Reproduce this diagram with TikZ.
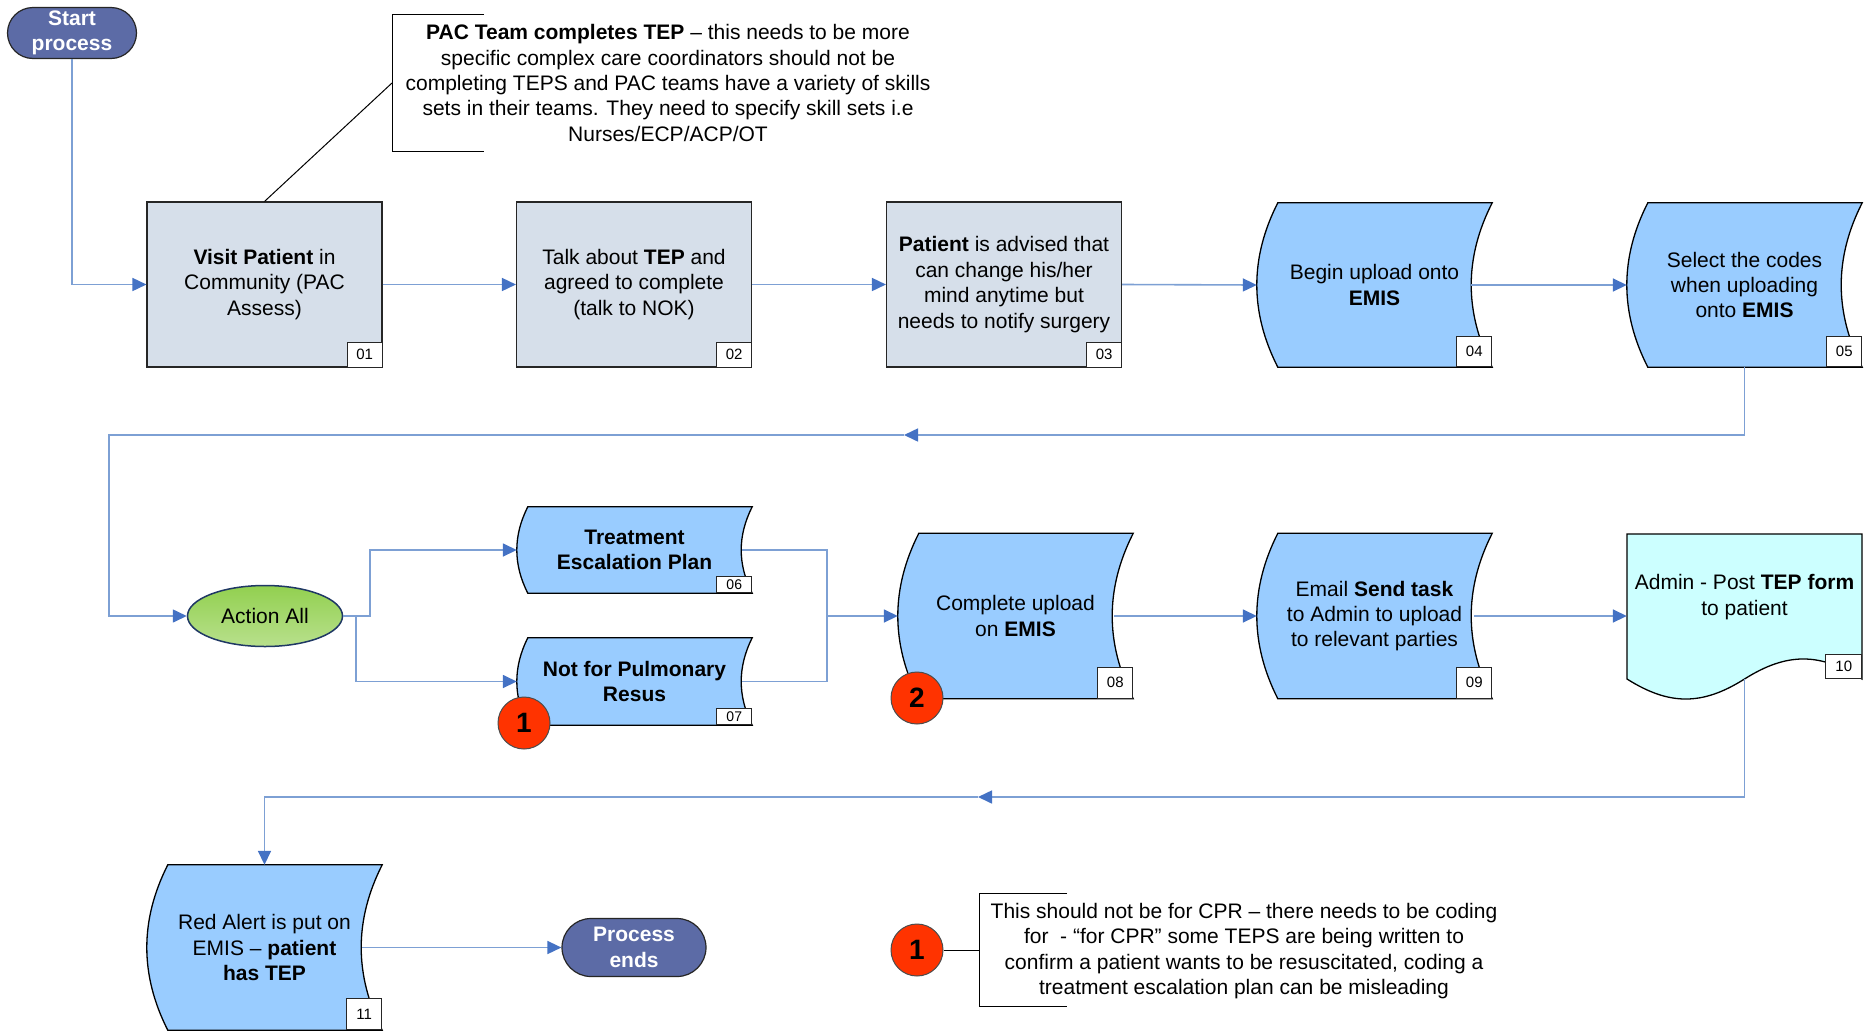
\documentclass[tikz,border=0pt]{standalone}
\usepackage{fontspec}
\setmainfont{Liberation Sans}
\usetikzlibrary{arrows.meta,calc,shapes.geometric,shapes.misc}
\pgfdeclarelayer{bg}
\pgfsetlayers{bg,main}
\definecolor{procfill}{RGB}{214,223,234}
\definecolor{wavefill}{RGB}{153,204,255}
\definecolor{docfill}{RGB}{204,255,255}
\definecolor{termfill}{RGB}{92,107,166}
\definecolor{connline}{RGB}{125,160,212}
\definecolor{connhead}{RGB}{68,114,196}
\definecolor{redmark}{RGB}{255,51,0}
\definecolor{greentop}{RGB}{146,208,80}
\definecolor{greenbot}{RGB}{184,224,140}
\definecolor{navyedge}{RGB}{31,56,100}
\newcommand\mywave[3][wavefill]{%
 \path[draw=black, line width=1.3pt, fill=#1]
  ([xshift=#3]#2.north west) -- (#2.north east)
  .. controls ($(#2.north east)!0.3333!(#2.south east)+(-1.3333*#3,0)$) and ($(#2.north east)!0.6667!(#2.south east)+(-1.3333*#3,0)$) .. (#2.south east)
  -- ([xshift=#3]#2.south west)
  .. controls ($(#2.south west)!0.3333!(#2.north west)+(-0.3333*#3,0)$) and ($(#2.south west)!0.6667!(#2.north west)+(-0.3333*#3,0)$) .. cycle;}
\tikzset{
 txt/.style={font=\fontsize{21}{25.4}\selectfont, align=center},
 proc/.style={txt, draw=black!85, line width=1.1pt, fill=procfill, minimum width=235, minimum height=165, inner sep=0},
 wave/.style={txt, minimum width=235, inner sep=0},
 numbox/.style={draw=black!85, line width=0.9pt, fill=white, font=\fontsize{15}{18}\selectfont, minimum width=35, inner sep=0, anchor=south east},
 term/.style={rounded rectangle, draw=black!85, line width=1.2pt, fill=termfill, text=white, font=\fontsize{21}{25.4}\selectfont\bfseries, align=center, inner sep=0},
 badge/.style={circle, draw=black!70, line width=1pt, fill=redmark, minimum size=52, inner sep=0, font=\fontsize{28}{30}\selectfont\bfseries},
 conn/.style={draw=connline, line width=1.6pt},
 arr/.style={conn, -{Triangle[length=14pt,width=13pt,color=connhead]}},
 callout/.style={draw=black, line width=1pt}
}
\begin{document}
\begin{tikzpicture}[x=1pt,y=-1pt]
\useasboundingbox (0,0) rectangle (1865,1031);

% terminals
\node[term, minimum width=129, minimum height=51] (start) at (72,33) {Start\\process};
\node[term, minimum width=144, minimum height=58] (pend) at (634,947.5) {Process\\ends};

% row 1
\node[proc] (n01) at (264.5,284.5) {\textbf{Visit Patient} in\\Community (PAC\\Assess)};
\node[proc] (n02) at (634,284.5) {Talk about \textbf{TEP} and\\agreed to complete\\(talk to NOK)};
\node[proc] (n03) at (1004,284.5) {\textbf{Patient} is advised that\\can change his/her\\mind anytime but\\needs to notify surgery};
\node[wave, minimum height=164] (n04) at (1374.5,285) {Begin upload onto\\\textbf{EMIS}};
\node[wave, minimum height=164] (n05) at (1744.5,285) {Select the codes\\when uploading\\onto \textbf{EMIS}};

% row 2
\node[ellipse, draw=navyedge, line width=1.5pt, top color=greentop, bottom color=greenbot, minimum width=155, minimum height=61, inner sep=0, txt] (act) at (265,616) {Action All};
\node[wave, minimum height=86] (n06) at (634.5,550) {\textbf{Treatment}\\\textbf{Escalation Plan}};
\node[wave, minimum height=87] (n07) at (634.5,681.5) {\textbf{Not for Pulmonary}\\\textbf{Resus}};
\node[wave, minimum height=165] (n08) at (1015.5,616) {Complete upload\\on \textbf{EMIS}};
\node[wave, minimum height=165] (n09) at (1374.5,616) {Email \textbf{Send task}\\to Admin to upload\\to relevant parties};
\node[wave, minimum height=124] (n10) at (1744.5,597) {Admin - Post \textbf{TEP form}\\to patient};

% row 3
\node[wave, minimum height=165] (n11) at (264.5,947.5) {Red Alert is put on\\EMIS – \textbf{patient}\\\textbf{has TEP}};

% shapes on background
\begin{pgfonlayer}{bg}
\fill[white] (0,0) rectangle (1865,1031);
\mywave{n04}{21}
\mywave{n05}{21}
\mywave{n06}{11}
\mywave{n07}{11}
\mywave{n08}{21}
\mywave{n09}{21}
\mywave{n11}{21}
\path[draw=black, line width=1.3pt, fill=docfill] (1627,534) -- (1862,534) -- (1862,679)
  .. controls (1819.7,652.3) and (1786.8,652.3) .. (1744.5,679)
  .. controls (1702.2,705.7) and (1669.3,705.7) .. (1627,679) -- cycle;
\end{pgfonlayer}

% number boxes
\node[numbox, minimum height=25] (k01) at (n01.south east) {01};
\node[numbox, minimum height=25] (k02) at (n02.south east) {02};
\node[numbox, minimum height=25] (k03) at (n03.south east) {03};
\node[numbox, minimum height=30] (k04) at (n04.south east) {04};
\node[numbox, minimum height=30] (k05) at (n05.south east) {05};
\node[numbox, minimum height=16, font=\fontsize{14}{16}\selectfont] (k06) at (n06.south east) {06};
\node[numbox, minimum height=16, font=\fontsize{14}{16}\selectfont] (k07) at (n07.south east) {07};
\node[numbox, minimum height=31] (k08) at (n08.south east) {08};
\node[numbox, minimum height=31] (k09) at (n09.south east) {09};
\node[numbox, minimum height=24, minimum width=36, anchor=north east] (k10) at ([yshift=5pt]n10.south east) {10};
\node[numbox, minimum height=31] (k11) at (n11.south east) {11};

% connectors
\draw[arr] (start.south) |- (n01.west);
\draw[arr] (n01.east) -- (n02.west);
\draw[arr] (n02.east) -- (n03.west);
\draw[arr] (n03.east) -- (n04.west);
\draw[arr] ([xshift=-21pt]n04.east) -- (n05.west);
\coordinate (m1) at (904,435);
\coordinate (t1) at (109,435);
\draw[arr] (n05.south) |- (m1);
\draw[arr] (m1) -- (t1) |- (act.west);
\coordinate (ja) at (370,616);
\coordinate (jb) at (356,616);
\coordinate (jc) at (827,616);
\draw[arr] (act.east) -- (ja) |- (n06.west);
\draw[arr] (jb) |- (n07.west);
\draw[conn] ([xshift=-10pt]n06.east) -| (jc);
\draw[conn] ([xshift=-10pt]n07.east) -| (jc);
\draw[arr] (jc) -- (n08.west);
\draw[arr] ([xshift=-19pt]n08.east) -- (n09.west);
\draw[arr] ([xshift=-18pt]n09.east) -- (n09.east -| n10.west);
\coordinate (d10) at (1744.5,679);
\coordinate (m2) at (978,797);
\coordinate (t2) at (264.5,797);
\draw[arr] (d10) |- (m2);
\draw[arr] (m2) -- (t2) -- (n11.north);
\draw[arr] ([xshift=-20pt]n11.east) -- (pend.west);

% badges
\node[badge] (r1) at (524,723) {1};
\node[badge] (r2) at (917,698) {2};
\node[badge] (r3) at (917,950) {1};

% callouts
\node[txt] (note1) at (668,83) {\textbf{PAC Team completes TEP} – this needs to be more\\specific complex care coordinators should not be\\completing TEPS and PAC teams have a variety of skills\\sets in their teams. They need to specify skill sets i.e\\Nurses/ECP/ACP/OT};
\draw[callout] (484,14) -- (392,14) -- (392,151) -- (484,151);
\coordinate (b1) at (392,83);
\draw[callout] (b1) -- (n01.north);

\node[txt] (note2) at (1244,951) {This should not be for CPR – there needs to be coding\\for~ - “for CPR” some TEPS are being written to\\confirm a patient wants to be resuscitated, coding a\\treatment escalation plan can be misleading};
\draw[callout] (1067,893) -- (979,893) -- (979,1006) -- (1067,1006);
\coordinate (b2) at (979,950);
\draw[callout] (r3.east) -- (b2);
\end{tikzpicture}
\end{document}
